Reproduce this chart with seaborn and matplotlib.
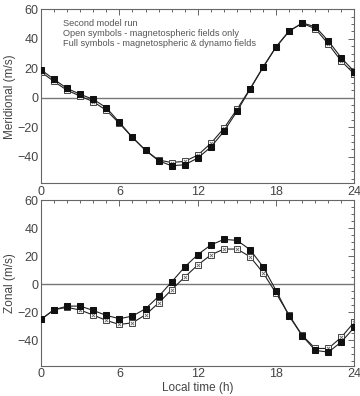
import numpy as np
import pandas as pd
import seaborn as sns
import matplotlib.pyplot as plt
from matplotlib.ticker import MultipleLocator

# local time (h)
hours = list(range(25))

# meridional wind (m/s)
merid_full = [19, 12.4, 6.3, 2.3, -1.1, -6.8, -16.7, -26.9, -35.7, -42.8, -46.2, -45.5, -41,
              -33.5, -22.9, -9.3, 5.7, 20.6, 34.4, 45.2, 50.7, 48.2, 38.5, 26.9, 17.6]
merid_open = [17.5, 11, 5, 1.1, -2.7, -8.6, -17.4, -27, -35.7, -42.3, -44, -43.2, -39,
              -31, -20.8, -7.9, 6, 20.8, 34.6, 45.3, 50.5, 46.8, 36.4, 24.7, 16]

# zonal wind (m/s)
zonal_full = [-25, -18.1, -15.5, -15.5, -18.6, -22.1, -24.5, -22.6, -17.4, -8.6, 1.7, 12.4, 21.2,
              28.1, 32.1, 31.4, 24.8, 12.6, -4.5, -22.6, -36.7, -47.1, -48.3, -41, -30.5]
zonal_open = [-25, -18, -16.4, -18.3, -21.9, -25.7, -28.6, -27.4, -21.7, -13.3, -3.8, 5.2, 13.8,
              21, 25.2, 25.2, 19.8, 8.3, -6.4, -22.1, -36.4, -45.7, -45.7, -37.6, -26.7]

notes = ['Second model run',
         'Open symbols - magnetospheric fields only',
         'Full symbols - magnetospheric & dynamo fields']

sns.set_style('white')
plt.rcParams['font.family'] = ['Liberation Sans', 'DejaVu Sans']
txt = '#444444'
edge = '#666666'

fig = plt.figure(figsize=(3.6, 3.96), dpi=100)
ax1 = fig.add_axes([0.1139, 0.5375, 0.8708, 0.4390])
ax2 = fig.add_axes([0.1139, 0.0765, 0.8708, 0.4178])


def draw(ax, full, opn, ylabel):
    df = pd.DataFrame({'h': hours, 'full': full, 'open': opn})
    ax.axhline(0, color='#777777', lw=1.0, zorder=1)
    # open symbols: square with a cross
    sns.lineplot(data=df, x='h', y='open', ax=ax, color='#222222', lw=0.8,
                 marker='s', markersize=3.7, markerfacecolor='white',
                 markeredgecolor='#444444', markeredgewidth=0.7, zorder=2)
    sns.scatterplot(data=df, x='h', y='open', ax=ax, marker='x', s=6,
                    color='#666666', linewidth=0.6, zorder=3)
    # full symbols
    sns.lineplot(data=df, x='h', y='full', ax=ax, color='#222222', lw=0.8,
                 marker='s', markersize=3.7, markerfacecolor='#111111',
                 markeredgecolor='#111111', zorder=4)
    ax.set_xlim(0, 24)
    ax.set_ylim(-58, 60)
    ax.xaxis.set_major_locator(MultipleLocator(6))
    ax.xaxis.set_minor_locator(MultipleLocator(1))
    ax.set_yticks([-40, -20, 0, 20, 40, 60])
    ax.yaxis.set_minor_locator(MultipleLocator(5))
    ax.tick_params(which='both', direction='in', top=True, right=True,
                   color=edge, labelcolor=txt, labelsize=9, width=0.7)
    ax.tick_params(which='major', length=4, pad=2)
    ax.tick_params(which='minor', length=2)
    ax.set_ylabel(ylabel, fontsize=8.5, color=txt, labelpad=1)
    ax.set_xlabel('')
    for s in ax.spines.values():
        s.set_color(edge)
        s.set_linewidth(0.8)


draw(ax1, merid_full, merid_open, 'Meridional (m/s)')
draw(ax2, zonal_full, zonal_open, 'Zonal (m/s)')
ax2.set_xlabel('Local time (h)', fontsize=8.5, color=txt, labelpad=1)

for i, line in enumerate(notes):
    ax1.text(0.07, 0.92 - i * 0.058, line, transform=ax1.transAxes,
             fontsize=6.6, color='#555555', va='center', ha='left')

fig.savefig('out.png', dpi=100)
